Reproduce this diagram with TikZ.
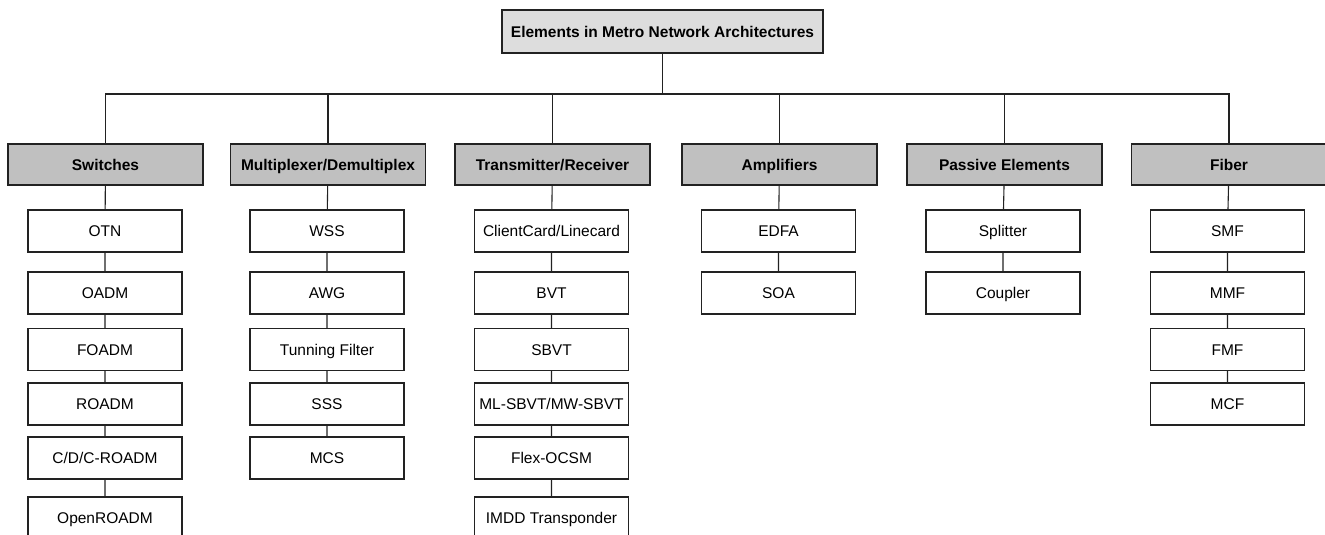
\documentclass[tikz,border=0pt]{standalone}
\usepackage{fontspec}
\setmainfont{Liberation Sans}
\definecolor{topgray}{HTML}{DDDDDD}
\definecolor{catgray}{HTML}{C0C0C0}
\definecolor{linegray}{HTML}{222222}
\newcommand{\boxfont}{\fontsize{15.5}{18}\selectfont}
\tikzset{
  basebox/.style={draw=linegray, line width=1.1pt, inner sep=0pt, text height=14pt, text depth=2.9pt},
  rootbox/.style={basebox, fill=topgray, minimum width=321pt, minimum height=43pt, font=\boxfont\bfseries},
  catbox/.style={basebox, fill=catgray, minimum width=195pt, minimum height=41pt, font=\boxfont\bfseries},
  itembox/.style={basebox, fill=white, minimum width=154pt, minimum height=42pt, font=\boxfont},
  link/.style={draw=linegray, line width=1.1pt}
}
\begin{document}
\begin{tikzpicture}[x=1pt, y=-1pt]
      \useasboundingbox (0,0) rectangle (1325,535);

      % Root
      \node[rootbox] (root) at (662.5,31.5) {Elements in Metro Network Architectures};
      \coordinate (bus) at (662.5,94);

      % Categories
      \node[catbox] (sw)  at (105.5,164.5) {Switches};
      \node[catbox] (mux) at (328,164.5)   {Multiplexer/Demultiplex};
      \node[catbox] (trx) at (552.5,164.5) {Transmitter/Receiver};
      \node[catbox] (amp) at (779.5,164.5) {Amplifiers};
      \node[catbox] (pas) at (1004.5,164.5) {Passive Elements};
      \node[catbox] (fib) at (1229,164.5)  {Fiber};

      % Switches
      \node[itembox] (otn)    at (105,231)   {OTN};
      \node[itembox] (oadm)   at (105,293)   {OADM};
      \node[itembox] (foadm)  at (105,349.5) {FOADM};
      \node[itembox] (roadm)  at (105,404)   {ROADM};
      \node[itembox] (cdc)    at (105,458)   {C/D/C-ROADM};
      \node[itembox] (oroadm) at (105,518)   {OpenROADM};

      % Multiplexer/Demultiplex
      \node[itembox] (wss)  at (327,231)   {WSS};
      \node[itembox] (awg)  at (327,293)   {AWG};
      \node[itembox] (tfil) at (327,349.5) {Tunning Filter};
      \node[itembox] (sss)  at (327,404)   {SSS};
      \node[itembox] (mcs)  at (327,458)   {MCS};

      % Transmitter/Receiver
      \node[itembox] (ccard) at (551.5,231)   {ClientCard/Linecard};
      \node[itembox] (bvt)   at (551.5,293)   {BVT};
      \node[itembox] (sbvt)  at (551.5,349.5) {SBVT};
      \node[itembox] (mlsb)  at (551.5,404)   {ML-SBVT/MW-SBVT};
      \node[itembox] (focsm) at (551.5,458)   {Flex-OCSM};
      \node[itembox] (imdd)  at (551.5,518)   {IMDD Transponder};

      % Amplifiers
      \node[itembox] (edfa) at (778.5,231) {EDFA};
      \node[itembox] (soa)  at (778.5,293) {SOA};

      % Passive Elements
      \node[itembox] (split) at (1003,231) {Splitter};
      \node[itembox] (coup)  at (1003,293) {Coupler};

      % Fiber
      \node[itembox] (smf) at (1227.5,231)   {SMF};
      \node[itembox] (mmf) at (1227.5,293)   {MMF};
      \node[itembox] (fmf) at (1227.5,349.5) {FMF};
      \node[itembox] (mcf) at (1227.5,404)   {MCF};

      % Tree lines
      \draw[link] (root) -- (bus);
      \draw[link] (bus) -| (sw);
      \draw[link] (bus) -| (mux);
      \draw[link] (bus) -| (trx);
      \draw[link] (bus) -| (amp);
      \draw[link] (bus) -| (pas);
      \draw[link] (bus) -| (fib);

      \draw[link] (sw) -- (otn) -- (oadm) -- (foadm) -- (roadm) -- (cdc) -- (oroadm);
      \draw[link] (mux) -- (wss) -- (awg) -- (tfil) -- (sss) -- (mcs);
      \draw[link] (trx) -- (ccard) -- (bvt) -- (sbvt) -- (mlsb) -- (focsm) -- (imdd);
      \draw[link] (amp) -- (edfa) -- (soa);
      \draw[link] (pas) -- (split) -- (coup);
      \draw[link] (fib) -- (smf) -- (mmf) -- (fmf) -- (mcf);
    \end{tikzpicture}
\end{document}
